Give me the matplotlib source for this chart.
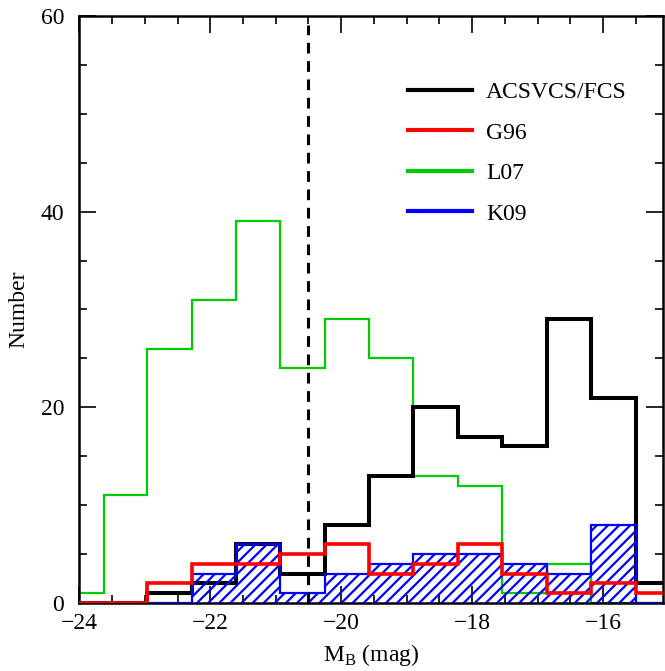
import matplotlib
matplotlib.use("Agg")
import matplotlib.pyplot as plt
import numpy as np

# bin edges in M_B (mag); outer bins run past the axis limits
bin_edges = [-24.31, -23.63, -22.96, -22.28, -21.60, -20.93, -20.25, -19.57,
             -18.90, -18.22, -17.54, -16.86, -16.18, -15.49, -14.81]

n_acs = [0, 0, 1, 2, 6, 3, 8, 13, 20, 17, 16, 29, 21, 2]
n_g96 = [0, 0, 2, 4, 4, 5, 6, 3, 4, 6, 3, 1, 2, 1]
n_l07 = [1, 11, 26, 31, 39, 24, 29, 25, 13, 12, 1, 4, 0, 0]
n_k09 = [0, 0, 0, 3, 6, 1, 3, 4, 5, 5, 4, 3, 8, 0]

mb_cut = -20.5

plt.rcParams["font.family"] = ["Liberation Serif", "DejaVu Serif"]
plt.rcParams["hatch.linewidth"] = 1.6
plt.rcParams["mathtext.fontset"] = "custom"
plt.rcParams["mathtext.rm"] = "Liberation Serif"

fig = plt.figure(figsize=(6.65, 6.71), dpi=100)
ax = fig.add_axes([0.1193, 0.1013, 0.878, 0.875])

ax.stairs(n_l07, bin_edges, color="#00cc00", linewidth=1.6, zorder=2)
ax.stairs(n_acs, bin_edges, color="black", linewidth=2.9, zorder=3)
ax.stairs(n_k09, bin_edges, fill=True, facecolor="none", edgecolor="blue",
          hatch="///", linewidth=1.6, zorder=4)
ax.stairs(n_g96, bin_edges, color="red", linewidth=2.6, zorder=5)

ax.axvline(mb_cut, ymin=0, ymax=0.985, color="black", linestyle=(0, (3.5, 2.5)),
           linewidth=2.2, zorder=6)

# legend handles (plain lines)
h_acs, = ax.plot([], [], color="black", linewidth=3, label="ACSVCS/FCS")
h_g96, = ax.plot([], [], color="red", linewidth=3, label="G96")
h_l07, = ax.plot([], [], color="#00cc00", linewidth=3, label="L07")
h_k09, = ax.plot([], [], color="blue", linewidth=3, label="K09")
ax.legend(handles=[h_acs, h_g96, h_l07, h_k09], loc="upper left",
          bbox_to_anchor=(0.527, 0.924), frameon=False, fontsize=17,
          handlelength=2.7, handletextpad=0.6, labelspacing=0.8)

ax.set_xlim(-24, -15.08)
ax.set_ylim(0, 60)
ax.set_xticks([-24, -22, -20, -18, -16])
ax.set_xticks(np.arange(-24, -15, 0.5), minor=True)
ax.set_yticks([0, 20, 40, 60])
ax.set_yticks(np.arange(0, 61, 5), minor=True)
ax.tick_params(which="both", direction="in", top=True, right=True, labelsize=17, width=1.2)
ax.tick_params(which="major", length=12)
ax.tick_params(which="minor", length=6)
ax.tick_params(axis="y", pad=11)
ax.tick_params(axis="x", pad=7)
for s in ax.spines.values():
    s.set_linewidth(1.8)

ax.set_xlabel(r"M$_{\rm B}$ (mag)", fontsize=17, labelpad=6)
ax.set_ylabel("Number", fontsize=17, labelpad=8)

fig.savefig("out.png", dpi=100)
